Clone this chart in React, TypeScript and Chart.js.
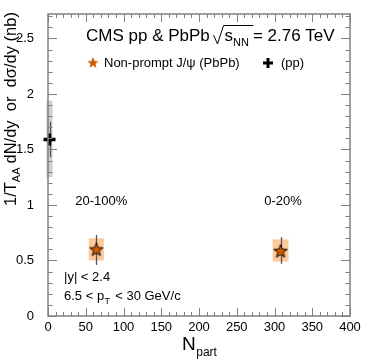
import React, { useEffect, useRef } from 'react';
import { Chart, registerables } from 'chart.js';

Chart.register(...registerables);

const X_MIN = 0;
const X_MAX = 400;
const Y_MIN = 0;
const Y_MAX = 2.72;
const X_TICKS = [0, 50, 100, 150, 200, 250, 300, 350, 400];
const Y_TICKS = [0, 0.5, 1, 1.5, 2, 2.5];
const X_MINOR_STEP = 10;
const Y_MINOR_STEP = 0.1;

const CENT_LABELS = ['20-100%', '0-20%'];
const PBPB_NPART = [64, 308];
const PBPB_VAL = [0.6, 0.585];
const PBPB_STAT_LO = [0.46, 0.47];
const PBPB_STAT_HI = [0.73, 0.71];
const PBPB_SYS_LO = [0.5, 0.49];
const PBPB_SYS_HI = [0.7, 0.69];
const PBPB_NPART_HW = [10, 10.5];

const PP_NPART = [2];
const PP_VAL = [1.59];
const PP_STAT_LO = [1.43];
const PP_STAT_HI = [1.75];
const PP_SYS_LO = [1.25];
const PP_SYS_HI = [1.94];
const PP_NPART_HW = [4];

const FONT = '"Liberation Sans", Arial, Helvetica, sans-serif';
const STAR_FILL = '#cc5a00';
const BOX_ORANGE = '#fdc89a';
const BOX_GRAY = '#d0d0d0';
const FRAME = '#808080';

function starPath(ctx: CanvasRenderingContext2D, cx: number, cy: number, ro: number, ri: number) {
  ctx.beginPath();
  for (let i = 0; i < 10; i++) {
    const r = i % 2 === 0 ? ro : ri;
    const a = -Math.PI / 2 + (i * Math.PI) / 5;
    const x = cx + r * Math.cos(a);
    const y = cy + r * Math.sin(a);
    if (i === 0) ctx.moveTo(x, y);
    else ctx.lineTo(x, y);
  }
  ctx.closePath();
}

function makeStar(size: number, ro: number, ri: number, stroke: boolean) {
  const c = document.createElement('canvas');
  c.width = size;
  c.height = size;
  const ctx = c.getContext('2d')!;
  starPath(ctx, size / 2, size / 2 + 0.5, ro, ri);
  ctx.fillStyle = STAR_FILL;
  ctx.fill();
  if (stroke) {
    ctx.strokeStyle = '#000';
    ctx.lineWidth = 0.9;
    ctx.stroke();
  }
  return c;
}

function drawCross(ctx: CanvasRenderingContext2D, x: number, y: number, hl: number, lw: number) {
  ctx.save();
  ctx.strokeStyle = '#000';
  ctx.lineWidth = lw;
  ctx.beginPath();
  ctx.moveTo(x - hl, y);
  ctx.lineTo(x + hl, y);
  ctx.moveTo(x, y - hl);
  ctx.lineTo(x, y + hl);
  ctx.stroke();
  ctx.restore();
}

const decorPlugin = {
  id: 'decor',
  beforeDatasetsDraw(chart: any) {
    const { ctx } = chart;
    const xs = chart.scales.x;
    const ys = chart.scales.y;
    ctx.save();
    const box = (n: number, hw: number, lo: number, hi: number, col: string) => {
      const x0 = xs.getPixelForValue(n - hw);
      const x1 = xs.getPixelForValue(n + hw);
      const y0 = ys.getPixelForValue(hi);
      const y1 = ys.getPixelForValue(lo);
      ctx.fillStyle = col;
      ctx.fillRect(x0, y0, x1 - x0, y1 - y0);
    };
    PP_NPART.forEach((n, i) => box(n, PP_NPART_HW[i], PP_SYS_LO[i], PP_SYS_HI[i], BOX_GRAY));
    PBPB_NPART.forEach((n, i) => box(n, PBPB_NPART_HW[i], PBPB_SYS_LO[i], PBPB_SYS_HI[i], BOX_ORANGE));
    ctx.strokeStyle = '#555';
    ctx.lineWidth = 1.3;
    const bar = (n: number, lo: number, hi: number) => {
      const x = Math.round(xs.getPixelForValue(n)) + 0.5;
      ctx.beginPath();
      ctx.moveTo(x, ys.getPixelForValue(lo));
      ctx.lineTo(x, ys.getPixelForValue(hi));
      ctx.stroke();
    };
    PP_NPART.forEach((n, i) => bar(n, PP_STAT_LO[i], PP_STAT_HI[i]));
    PBPB_NPART.forEach((n, i) => bar(n, PBPB_STAT_LO[i], PBPB_STAT_HI[i]));
    ctx.restore();
  },
  afterDatasetsDraw(chart: any) {
    const { ctx, chartArea: a } = chart;
    const xs = chart.scales.x;
    const ys = chart.scales.y;
    ctx.save();
    ctx.strokeStyle = FRAME;
    ctx.lineWidth = 1.5;
    ctx.strokeRect(a.left, a.top, a.right - a.left, a.bottom - a.top);
    ctx.lineWidth = 1;
    ctx.beginPath();
    for (let v = X_MIN; v <= X_MAX + 1e-6; v += X_MINOR_STEP) {
      const major = X_TICKS.some((t) => Math.abs(t - v) < 1e-6);
      const len = major ? 8 : 4;
      const x = Math.round(xs.getPixelForValue(v)) + 0.5;
      ctx.moveTo(x, a.bottom);
      ctx.lineTo(x, a.bottom - len);
      ctx.moveTo(x, a.top);
      ctx.lineTo(x, a.top + len);
    }
    for (let k = 0; k * Y_MINOR_STEP <= Y_MAX + 1e-6; k++) {
      const v = k * Y_MINOR_STEP;
      const major = Y_TICKS.some((t) => Math.abs(t - v) < 1e-6);
      const len = major ? 9 : 4.5;
      const y = Math.round(ys.getPixelForValue(v)) + 0.5;
      ctx.moveTo(a.left, y);
      ctx.lineTo(a.left + len, y);
      ctx.moveTo(a.right, y);
      ctx.lineTo(a.right - len, y);
    }
    ctx.stroke();
    ctx.restore();
  },
  afterDraw(chart: any) {
    const { ctx } = chart;
    const xs = chart.scales.x;
    ctx.save();
    ctx.fillStyle = '#000';
    ctx.textBaseline = 'alphabetic';
    ctx.textAlign = 'left';

    // title
    let x = 86;
    const by = 41;
    ctx.font = `17px ${FONT}`;
    const t1 = 'CMS pp & PbPb ';
    ctx.fillText(t1, x, by);
    x += ctx.measureText(t1).width;
    ctx.strokeStyle = '#000';
    ctx.lineWidth = 1;
    ctx.beginPath();
    ctx.moveTo(x - 1, 35);
    ctx.lineTo(x + 3, 44);
    ctx.lineTo(x + 9, 25.5);
    ctx.lineTo(x + 39, 25.5);
    ctx.stroke();
    x += 10;
    ctx.fillText('s', x, by);
    x += ctx.measureText('s').width;
    ctx.font = `11px ${FONT}`;
    ctx.fillText('NN', x, by + 5);
    x += ctx.measureText('NN').width + 4;
    ctx.font = `17px ${FONT}`;
    ctx.fillText('= 2.76 TeV', x, by);

    // legend
    ctx.font = `13px ${FONT}`;
    ctx.textBaseline = 'middle';
    const ls = makeStar(14, 6, 2.6, false);
    ctx.drawImage(ls, 93 - 7, 63 - 7.5);
    ctx.fillText('Non-prompt J/\u03c8 (PbPb)', 104, 63);
    drawCross(ctx, 268, 63, 5, 3);
    ctx.fillText('(pp)', 281, 63);

    // centrality labels
    ctx.textAlign = 'center';
    const cy = 201;
    const offs = [5, 2.5];
    CENT_LABELS.forEach((lab, i) => {
      ctx.fillText(lab, xs.getPixelForValue(PBPB_NPART[i]) + offs[i], cy);
    });

    // kinematic labels
    ctx.textAlign = 'left';
    ctx.fillText('|y| < 2.4', 64, 277);
    let kx = 64;
    const ky = 296;
    const k1 = '6.5 < p';
    ctx.fillText(k1, kx, ky);
    kx += ctx.measureText(k1).width;
    ctx.font = `9px ${FONT}`;
    ctx.fillText('T', kx + 0.5, ky + 6);
    kx += ctx.measureText('T').width + 2;
    ctx.font = `13px ${FONT}`;
    ctx.fillText(' < 30 GeV/c', kx, ky);

    // x title
    ctx.textBaseline = 'alphabetic';
    ctx.font = `19px ${FONT}`;
    ctx.fillText('N', 182, 350);
    const nw = ctx.measureText('N').width;
    ctx.font = `12px ${FONT}`;
    ctx.fillText('part', 182 + nw + 0.5, 356);

    // y title (rotated)
    ctx.translate(16, 206);
    ctx.rotate(-Math.PI / 2);
    let px = 0;
    ctx.font = `16.5px ${FONT}`;
    ctx.fillText('1/T', px, 0);
    px += ctx.measureText('1/T').width;
    ctx.font = `11px ${FONT}`;
    ctx.fillText('AA', px, 4);
    px += ctx.measureText('AA').width + 4;
    ctx.font = `16.5px ${FONT}`;
    const rest = 'dN/dy  or  d\u03c3/dy (nb)';
    ctx.fillText(rest, px, 0);
    ctx.restore();
  },
};

export default function App() {
  const ref = useRef<HTMLCanvasElement | null>(null);
  useEffect(() => {
    if (!ref.current) return;
    const star = makeStar(16, 7, 3, true);
    const chart = new Chart(ref.current, {
      type: 'scatter',
      data: {
        datasets: [
          {
            label: 'Non-prompt J/psi (PbPb)',
            data: PBPB_NPART.map((n, i) => ({ x: n, y: PBPB_VAL[i] })),
            pointStyle: star as any,
            pointRadius: 7,
            clip: false as any,
          },
          {
            label: '(pp)',
            data: PP_NPART.map((n, i) => ({ x: n, y: PP_VAL[i] })),
            pointStyle: 'cross',
            pointRadius: 6,
            borderWidth: 3.5,
            borderColor: '#000',
            backgroundColor: '#000',
            clip: false as any,
          },
        ],
      },
      options: {
        animation: false,
        responsive: false,
        events: [],
        layout: { padding: { top: 14, right: 24, left: 0, bottom: 0 } },
        plugins: { legend: { display: false }, tooltip: { enabled: false } },
        scales: {
          x: {
            type: 'linear',
            min: X_MIN,
            max: X_MAX,
            grid: { display: false },
            border: { display: false },
            afterBuildTicks: (s: any) => {
              s.ticks = X_TICKS.map((v) => ({ value: v }));
            },
            afterFit: (s: any) => {
              s.height = 43;
            },
            ticks: {
              autoSkip: false,
              maxRotation: 0,
              padding: -4,
              color: '#000',
              font: { family: FONT, size: 13 },
              callback: (v: any) => String(v),
            },
          },
          y: {
            type: 'linear',
            min: Y_MIN,
            max: Y_MAX,
            grid: { display: false },
            border: { display: false },
            afterBuildTicks: (s: any) => {
              s.ticks = Y_TICKS.map((v) => ({ value: v }));
            },
            afterFit: (s: any) => {
              s.width = 48;
            },
            ticks: {
              autoSkip: false,
              padding: 6,
              color: '#000',
              font: { family: FONT, size: 13 },
              callback: (v: any) => String(v),
            },
          },
        },
      },
      plugins: [decorPlugin],
    });
    return () => chart.destroy();
  }, []);
  return (
    <div style={{ position: 'fixed', left: 0, top: 0, width: 374, height: 359, background: '#fff' }}>
      <canvas ref={ref} width={374} height={359} />
    </div>
  );
}
